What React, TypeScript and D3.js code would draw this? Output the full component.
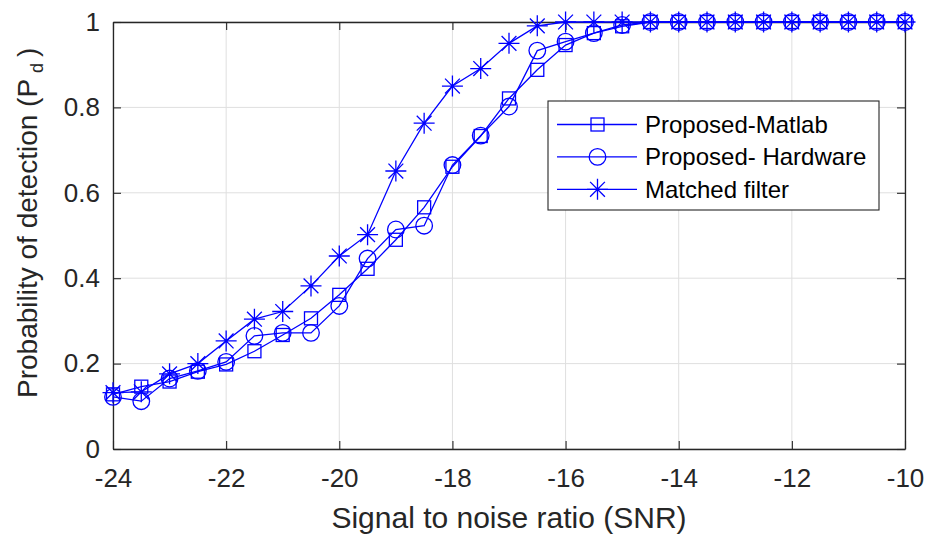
import * as React from "react";
import * as d3 from "d3";

const snr = [-24, -23.5, -23, -22.5, -22, -21.5, -21, -20.5, -20, -19.5, -19, -18.5, -18, -17.5, -17, -16.5, -16, -15.5, -15, -14.5, -14, -13.5, -13, -12.5, -12, -11.5, -11, -10.5, -10];
const proposedMatlab = [0.128, 0.146, 0.158, 0.181, 0.198, 0.229, 0.267, 0.306, 0.361, 0.422, 0.49, 0.566, 0.661, 0.733, 0.821, 0.888, 0.946, 0.974, 0.99, 1, 1, 1, 1, 1, 1, 1, 1, 1, 1];
const proposedHardware = [0.122, 0.112, 0.165, 0.183, 0.204, 0.265, 0.272, 0.272, 0.335, 0.446, 0.514, 0.523, 0.665, 0.734, 0.802, 0.933, 0.954, 0.974, 0.993, 1, 1, 1, 1, 1, 1, 1, 1, 1, 1];
const matchedFilter = [0.132, 0.134, 0.176, 0.2, 0.253, 0.304, 0.322, 0.382, 0.452, 0.502, 0.651, 0.763, 0.85, 0.891, 0.95, 0.991, 1, 1, 1, 1, 1, 1, 1, 1, 1, 1, 1, 1, 1];
const seriesNames = ["Proposed-Matlab", "Proposed- Hardware", "Matched filter"];
const xTicks = [-24, -22, -20, -18, -16, -14, -12, -10];
const yTicks = [0, 0.2, 0.4, 0.6, 0.8, 1];

const BLUE = "#0000ff";
const FONT = "'Liberation Sans', Arial, Helvetica, sans-serif";

function drawMarker(g, kind, x, y) {
  if (kind === "square") {
    g.append("rect").attr("x", x - 6.5).attr("y", y - 6.5).attr("width", 13).attr("height", 13)
      .attr("fill", "none").attr("stroke", BLUE).attr("stroke-width", 1.3);
  } else if (kind === "circle") {
    g.append("circle").attr("cx", x).attr("cy", y).attr("r", 8.3)
      .attr("fill", "none").attr("stroke", BLUE).attr("stroke-width", 1.3);
  } else {
    const r = 10.5, d = 7.4;
    const p = d3.path();
    p.moveTo(x - r, y); p.lineTo(x + r, y);
    p.moveTo(x, y - r); p.lineTo(x, y + r);
    p.moveTo(x - d, y - d); p.lineTo(x + d, y + d);
    p.moveTo(x - d, y + d); p.lineTo(x + d, y - d);
    g.append("path").attr("d", p.toString()).attr("fill", "none")
      .attr("stroke", BLUE).attr("stroke-width", 1.3);
  }
}

function drawChart(svgRef) {
  const width = 926, height = 536;
  const margin = { left: 113, right: 21, top: 22, bottom: 87 };
  const innerW = width - margin.left - margin.right;
  const innerH = height - margin.top - margin.bottom;

  const x = d3.scaleLinear().domain([-24, -10]).range([0, innerW]);
  const y = d3.scaleLinear().domain([0, 1]).range([innerH, 0]);

  const svgContainer = d3.select(svgRef.current).attr("width", width).attr("height", height);
  svgContainer.selectAll("*").remove();
  svgContainer.append("rect").attr("width", width).attr("height", height).attr("fill", "#fff");

  const svg = svgContainer.append("g").attr("transform", `translate(${margin.left},${margin.top})`);

  // grid
  svg.append("g").selectAll("line").data(xTicks).enter().append("line")
    .attr("x1", (d) => x(d)).attr("x2", (d) => x(d)).attr("y1", 0).attr("y2", innerH)
    .attr("stroke", "#dfdfdf").attr("stroke-width", 1);
  svg.append("g").selectAll("line").data(yTicks).enter().append("line")
    .attr("x1", 0).attr("x2", innerW).attr("y1", (d) => y(d)).attr("y2", (d) => y(d))
    .attr("stroke", "#dfdfdf").attr("stroke-width", 1);

  // axes (box with inward ticks)
  const axisColor = "#262626";
  const tk = 8;
  const bottom = svg.append("g").attr("transform", `translate(0,${innerH})`)
    .call(d3.axisBottom(x).tickValues(xTicks).tickSizeInner(-tk).tickSizeOuter(0).tickPadding(20).tickFormat((d) => `${d}`));
  const left = svg.append("g")
    .call(d3.axisLeft(y).tickValues(yTicks).tickSizeInner(-tk).tickSizeOuter(0).tickPadding(13).tickFormat((d) => `${d}`));
  const top = svg.append("g")
    .call(d3.axisTop(x).tickValues(xTicks).tickSizeInner(-tk).tickSizeOuter(0).tickFormat(() => ""));
  const right = svg.append("g").attr("transform", `translate(${innerW},0)`)
    .call(d3.axisRight(y).tickValues(yTicks).tickSizeInner(-tk).tickSizeOuter(0).tickFormat(() => ""));
  [bottom, left, top, right].forEach((a) => {
    a.select(".domain").attr("stroke", axisColor).attr("stroke-width", 1.3);
    a.selectAll(".tick line").attr("stroke", axisColor).attr("stroke-width", 1.1);
    a.selectAll("text").attr("fill", "#262626").attr("font-family", FONT).attr("font-size", 26);
  });

  // series
  const series = [
    { values: proposedMatlab, marker: "square" },
    { values: proposedHardware, marker: "circle" },
    { values: matchedFilter, marker: "star" },
  ];
  const line = d3.line().x((d) => x(d[0])).y((d) => y(d[1]));
  series.forEach((s) => {
    const pts = snr.map((v, i) => [v, s.values[i]]);
    svg.append("path").attr("d", line(pts)).attr("fill", "none")
      .attr("stroke", BLUE).attr("stroke-width", 1.3);
    const g = svg.append("g");
    pts.forEach((p) => drawMarker(g, s.marker, x(p[0]), y(p[1])));
  });

  // legend
  const lg = svgContainer.append("g").attr("transform", "translate(548,101)");
  lg.append("rect").attr("x", 0).attr("y", 0).attr("width", 331).attr("height", 109)
    .attr("fill", "#fff").attr("stroke", "#262626").attr("stroke-width", 1.1);
  seriesNames.forEach((name, i) => {
    const yy = 23.5 + i * 32.4;
    lg.append("line").attr("x1", 9).attr("x2", 89).attr("y1", yy).attr("y2", yy)
      .attr("stroke", BLUE).attr("stroke-width", 1.3);
    drawMarker(lg, series[i].marker, 49.5, yy);
    lg.append("text").attr("x", 97).attr("y", yy + 8.4).attr("font-family", FONT)
      .attr("font-size", 24).attr("fill", "#000").text(name);
  });

  // axis titles
  svgContainer.append("text").attr("x", margin.left + innerW / 2).attr("y", 528)
    .attr("text-anchor", "middle").attr("font-family", FONT).attr("font-size", 30)
    .attr("fill", "#262626").text("Signal to noise ratio (SNR)");

  const yt = svgContainer.append("text").attr("transform", "translate(37,398) rotate(-90)")
    .attr("text-anchor", "start").attr("font-family", FONT).attr("font-size", 28)
    .attr("fill", "#262626");
  yt.append("tspan").text("Probability of detection (P");
  yt.append("tspan").attr("dy", 6).attr("dx", 6).attr("font-size", 18).text("d");
  yt.append("tspan").attr("dy", -6).attr("dx", 6).text(")");
}

const App = () => {
  const svgRef = React.useRef(null);
  React.useEffect(() => {
    drawChart(svgRef);
  }, [svgRef]);
  return (
    <div id="chart" style={{ position: "absolute", left: 0, top: 0 }}>
      <svg ref={svgRef} style={{ display: "block" }} />
    </div>
  );
};

export default App;
